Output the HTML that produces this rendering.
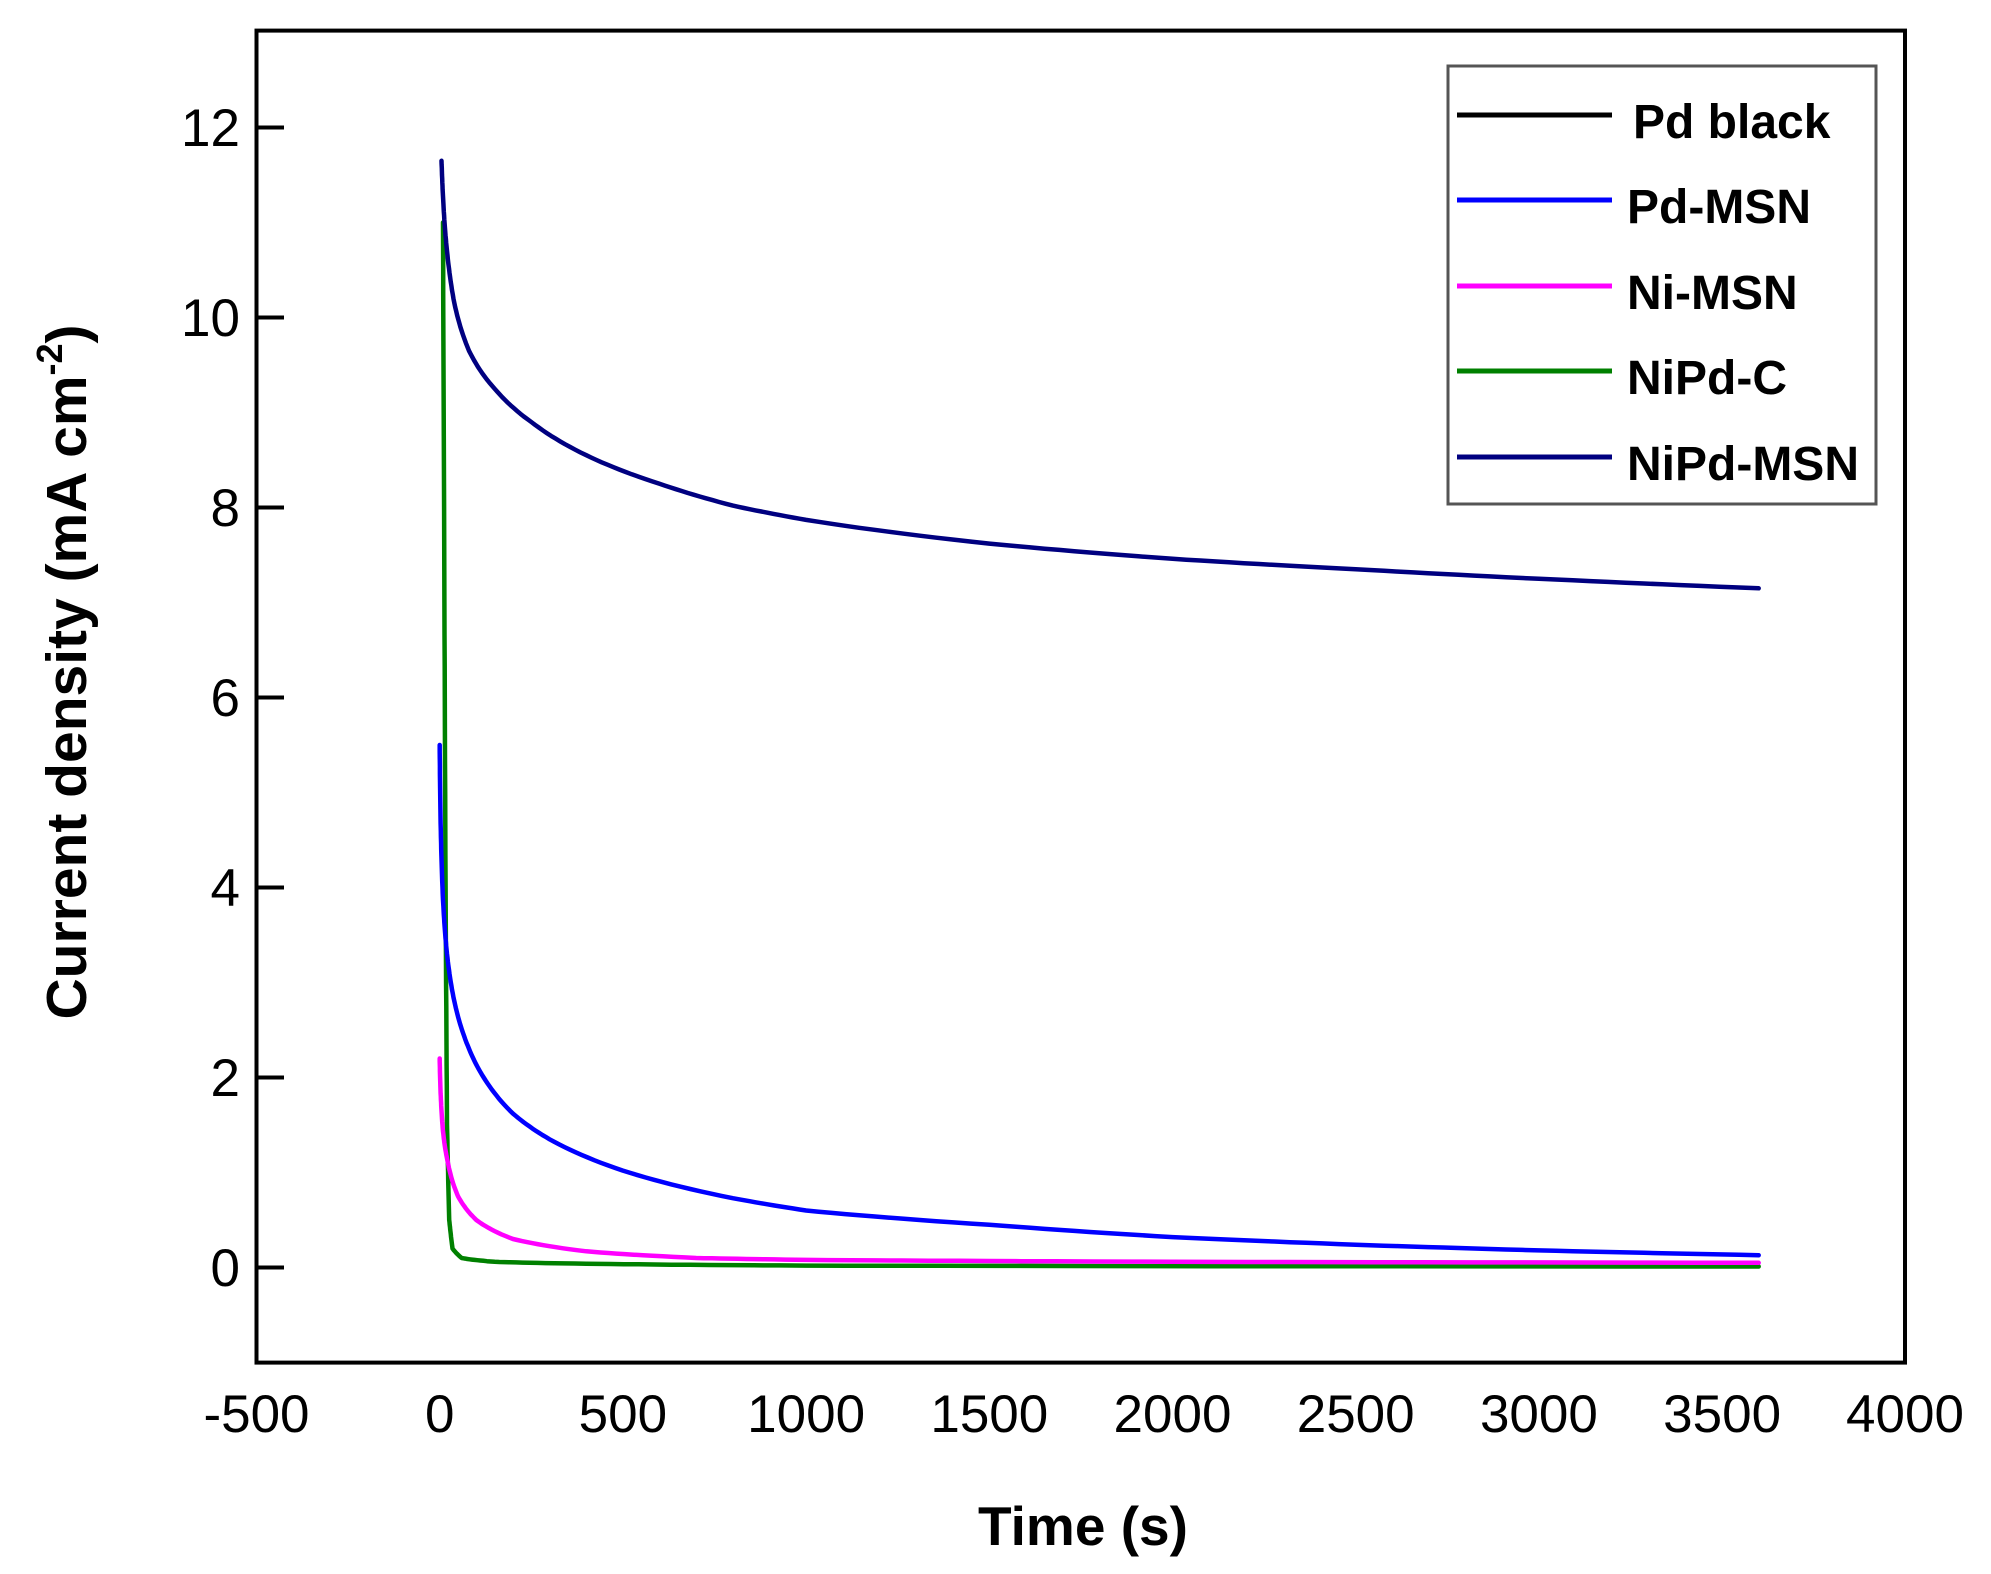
<!DOCTYPE html>
<html><head><meta charset="utf-8"><style>
html,body{margin:0;padding:0;background:#fff;}
svg{display:block;}
text{font-family:"Liberation Sans",Arial,sans-serif;}
</style></head><body>
<svg id="s" width="1991" height="1574" viewBox="0 0 1991 1574" xmlns="http://www.w3.org/2000/svg">
<rect width="1991" height="1574" fill="#fff"/>
<g id="curves" fill="none" stroke-width="4.5" stroke-linejoin="round" stroke-linecap="round"></g>
<rect x="256.5" y="30.6" width="1648.5" height="1332" fill="none" stroke="#000" stroke-width="4"/>
<g stroke="#000" stroke-width="4">
<line x1="256.5" y1="127.5" x2="284" y2="127.5"/>
<line x1="256.5" y1="317.5" x2="284" y2="317.5"/>
<line x1="256.5" y1="507.5" x2="284" y2="507.5"/>
<line x1="256.5" y1="697.5" x2="284" y2="697.5"/>
<line x1="256.5" y1="887.5" x2="284" y2="887.5"/>
<line x1="256.5" y1="1077.5" x2="284" y2="1077.5"/>
<line x1="256.5" y1="1267.5" x2="284" y2="1267.5"/>
</g>
<g font-size="53" text-anchor="end" fill="#000">
<text x="240" y="146">12</text>
<text x="240" y="336">10</text>
<text x="240" y="526">8</text>
<text x="240" y="716">6</text>
<text x="240" y="906">4</text>
<text x="240" y="1096">2</text>
<text x="240" y="1286">0</text>
</g>
<g font-size="53" text-anchor="middle" fill="#000">
<text x="256.5" y="1432">-500</text>
<text x="439.7" y="1432">0</text>
<text x="622.9" y="1432">500</text>
<text x="806.1" y="1432">1000</text>
<text x="989.3" y="1432">1500</text>
<text x="1172.5" y="1432">2000</text>
<text x="1355.7" y="1432">2500</text>
<text x="1538.9" y="1432">3000</text>
<text x="1722.1" y="1432">3500</text>
<text x="1905" y="1432">4000</text>
</g>
<text x="1083" y="1545" font-size="55" font-weight="bold" text-anchor="middle">Time (s)</text>
<text transform="translate(86,672) rotate(-90)" font-size="57" font-weight="bold" text-anchor="middle">Current density (mA cm<tspan dy="-24" font-size="36">-2</tspan><tspan dy="24">)</tspan></text>
<rect x="1448" y="66" width="428" height="438" fill="#fff" stroke="#555" stroke-width="3"/>
<g stroke-width="5">
<line x1="1457" y1="115" x2="1612" y2="115" stroke="#000"/>
<line x1="1457" y1="200" x2="1612" y2="200" stroke="#0000ff"/>
<line x1="1457" y1="286" x2="1612" y2="286" stroke="#ff00ff"/>
<line x1="1457" y1="371" x2="1612" y2="371" stroke="#008000"/>
<line x1="1457" y1="457" x2="1612" y2="457" stroke="#000080"/>
</g>
<g font-size="48" font-weight="bold" fill="#000">
<text x="1633" y="138">Pd black</text>
<text x="1627" y="223">Pd-MSN</text>
<text x="1627" y="309">Ni-MSN</text>
<text x="1627" y="394">NiPd-C</text>
<text x="1627" y="480">NiPd-MSN</text>
</g>
</svg>
<script>
(function(){
var X=function(t){return 439.7+t*0.3664;};
var Y=function(v){return 1267.5-v*95;};
function interp(pts){
 var out=[];
 for(var i=0;i<pts.length-1;i++){
  var a=pts[i],b=pts[i+1];
  var la=Math.log(a[0]+1),lb=Math.log(b[0]+1);
  var n=12;
  for(var k=0;k<n;k++){
   var f=k/n, l=la+(lb-la)*f, t=Math.exp(l)-1;
   var v=a[1]+(b[1]-a[1])*f;
   out.push(X(t).toFixed(1)+','+Y(v).toFixed(1));
  }
 }
 var e=pts[pts.length-1];out.push(X(e[0]).toFixed(1)+','+Y(e[1]).toFixed(1));
 return out.join(' ');
}
var series=[
 ['#008000',[[9,11.0],[12,8],[16,4],[20,1.5],[26,0.5],[35,0.2],[60,0.1],[150,0.06],[400,0.04],[1000,0.02],[3600,0.01]]],
 ['#ff00ff',[[0,2.2],[3,1.8],[10,1.4],[20,1.15],[50,0.75],[100,0.5],[200,0.3],[400,0.17],[700,0.1],[1000,0.08],[2000,0.06],[3600,0.05]]],
 ['#0000ff',[[0,5.5],[3,4.6],[10,3.8],[20,3.3],[40,2.8],[70,2.4],[120,2.0],[200,1.62],[300,1.35],[500,1.02],[800,0.73],[1000,0.6],[1500,0.45],[2000,0.32],[2500,0.24],[3000,0.18],[3600,0.13]]],
 ['#000080',[[5,11.65],[10,11.2],[20,10.7],[40,10.15],[80,9.65],[150,9.25],[250,8.9],[400,8.55],[600,8.25],[800,8.02],[1000,7.87],[1500,7.62],[2000,7.46],[2500,7.35],[3000,7.25],[3600,7.15]]]
];
var g=document.getElementById('curves');
series.forEach(function(s){
 var p=document.createElementNS('http://www.w3.org/2000/svg','polyline');
 p.setAttribute('points',interp(s[1]));p.setAttribute('stroke',s[0]);g.appendChild(p);
});
})();
</script>
</body></html>
